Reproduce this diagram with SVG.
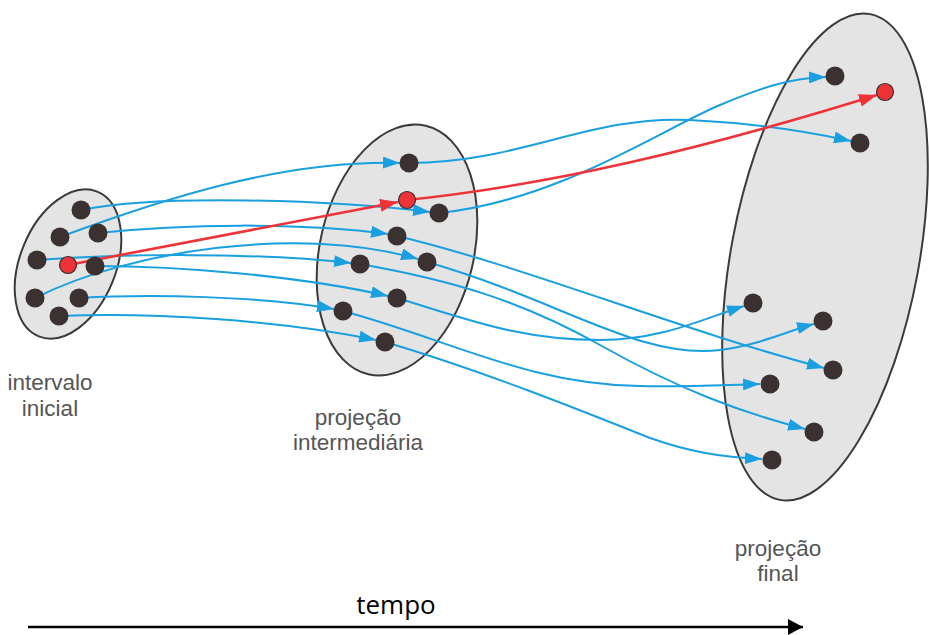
<svg xmlns="http://www.w3.org/2000/svg" width="929" height="635" viewBox="0 0 929 635">
  <defs>
    <style>
      .set { fill: #e4e4e4; stroke: #3b3b3b; stroke-width: 2; }
      .pt { fill: #3a3130; }
      .pt-red { fill: #ee3338; stroke: #3a3130; stroke-width: 1.2; }
      .flow { fill: none; stroke: #1a9fe0; stroke-width: 2; marker-end: url(#ah-blue); }
      .flow-red { fill: none; stroke: #ee3338; stroke-width: 2.6; marker-end: url(#ah-red); }
      .lbl { font-family: "Liberation Sans", Arial, sans-serif; font-size: 22.5px; fill: #555555; text-anchor: middle; }
      .axis-lbl { font-family: "Open Sans", "Liberation Sans", sans-serif; font-size: 26px; fill: #000000; text-anchor: middle; }
    </style>
    <marker id="ah-blue" markerUnits="userSpaceOnUse" markerWidth="17" markerHeight="12" refX="17" refY="6" orient="auto">
      <path d="M0,0 L17,6 L0,12 Z" fill="#1a9fe0"/>
    </marker>
    <marker id="ah-red" markerUnits="userSpaceOnUse" markerWidth="18" markerHeight="13" refX="18" refY="6.5" orient="auto">
      <path d="M0,0 L18,6.5 L0,13 Z" fill="#ee3338"/>
    </marker>
    <marker id="ah-black" markerUnits="userSpaceOnUse" markerWidth="16" markerHeight="16" refX="15" refY="8" orient="auto">
      <path d="M0,0 L15,8 L0,16 Z" fill="#000000"/>
    </marker>
  </defs>

  <rect width="929" height="635" fill="#ffffff"/>

  <!-- the three sets of states -->
  <g id="set-initial">
    <ellipse class="set" cx="68" cy="264" rx="48" ry="78" transform="rotate(22 68 264)"/>
    <text class="lbl" x="50" y="390">intervalo</text>
    <text class="lbl" x="50" y="416">inicial</text>
  </g>
  <g id="set-intermediate">
    <ellipse class="set" cx="397" cy="250" rx="77" ry="127.5" transform="rotate(13 397 250)"/>
    <text class="lbl" x="358" y="425">projeção</text>
    <text class="lbl" x="358" y="450">intermediária</text>
  </g>
  <g id="set-final">
    <ellipse class="set" cx="825" cy="257" rx="94" ry="247" transform="rotate(10.5 825 257)"/>
    <text class="lbl" x="778" y="556">projeção</text>
    <text class="lbl" x="778" y="581">final</text>
  </g>

  <!-- trajectories -->
  <g id="connectors">
    <!-- initial -> intermediate -->
    <path class="flow" d="M81,210 C160,194 330,200 430,212"/>
    <path class="flow" d="M60,237 C160,200 280,160 400,163"/>
    <path class="flow" d="M98,233 C180,224 300,222 388,234"/>
    <path class="flow" d="M37,260 C120,254 250,252 351,263"/>
    <path class="flow" d="M95,266 C180,266 300,276 388,296"/>
    <path class="flow" d="M35,298 C130,250 300,225 418,259"/>
    <path class="flow" d="M79,298 C150,294 260,296 334,309"/>
    <path class="flow" d="M59,316 C150,312 280,320 376,340"/>
    <!-- intermediate -> final -->
    <path class="flow" d="M409,163 C520,163 590,115 690,120 C750,123 800,130 851,141"/>
    <path class="flow" d="M439,213 C560,200 660,130 720,105 C760,88 790,78 826,77"/>
    <path class="flow" d="M397,236 C520,265 680,330 824,368"/>
    <path class="flow" d="M427,262 C560,300 640,360 720,350 C760,345 790,330 814,324"/>
    <path class="flow" d="M360,264 C450,280 520,300 600,345 C680,390 740,412 805,429"/>
    <path class="flow" d="M397,298 C470,320 520,340 600,340 C660,340 700,320 744,306"/>
    <path class="flow" d="M343,311 C450,340 530,385 640,386 C690,387 720,385 760,384"/>
    <path class="flow" d="M385,342 C480,370 580,410 650,438 C690,452 720,457 762,459"/>
    <!-- highlighted trajectory -->
    <path class="flow-red" d="M68,265 L398,202"/>
    <path class="flow-red" d="M407,200 C550,185 700,150 877,95"/>
    <!-- time axis -->
    <line x1="28" y1="627" x2="803" y2="627" stroke="#000000" stroke-width="2.5" marker-end="url(#ah-black)"/>
  </g>

  <!-- states in the initial interval -->
  <g id="i1"><circle class="pt" cx="81" cy="210" r="9.5"/></g>
  <g id="i2"><circle class="pt" cx="60" cy="237" r="9.5"/></g>
  <g id="i3"><circle class="pt" cx="98" cy="233" r="9.5"/></g>
  <g id="i4"><circle class="pt" cx="37" cy="260" r="9.5"/></g>
  <g id="i5"><circle class="pt" cx="95" cy="266" r="9.5"/></g>
  <g id="i6"><circle class="pt" cx="35" cy="298" r="9.5"/></g>
  <g id="i7"><circle class="pt" cx="79" cy="298" r="9.5"/></g>
  <g id="i8"><circle class="pt" cx="59" cy="316" r="9.5"/></g>
  <g id="i-red"><circle class="pt-red" cx="68" cy="265" r="8.5"/></g>

  <!-- states in the intermediate projection -->
  <g id="m1"><circle class="pt" cx="409" cy="163" r="9.5"/></g>
  <g id="m2"><circle class="pt" cx="439" cy="213" r="9.5"/></g>
  <g id="m3"><circle class="pt" cx="397" cy="236" r="9.5"/></g>
  <g id="m4"><circle class="pt" cx="427" cy="262" r="9.5"/></g>
  <g id="m5"><circle class="pt" cx="360" cy="264" r="9.5"/></g>
  <g id="m6"><circle class="pt" cx="397" cy="298" r="9.5"/></g>
  <g id="m7"><circle class="pt" cx="343" cy="311" r="9.5"/></g>
  <g id="m8"><circle class="pt" cx="385" cy="342" r="9.5"/></g>
  <g id="m-red"><circle class="pt-red" cx="407" cy="200" r="8.5"/></g>

  <!-- states in the final projection -->
  <g id="f1"><circle class="pt" cx="835" cy="76" r="9.5"/></g>
  <g id="f2"><circle class="pt" cx="860" cy="143" r="9.5"/></g>
  <g id="f3"><circle class="pt" cx="753" cy="303" r="9.5"/></g>
  <g id="f4"><circle class="pt" cx="823" cy="321" r="9.5"/></g>
  <g id="f5"><circle class="pt" cx="833" cy="370" r="9.5"/></g>
  <g id="f6"><circle class="pt" cx="770" cy="384" r="9.5"/></g>
  <g id="f7"><circle class="pt" cx="814" cy="432" r="9.5"/></g>
  <g id="f8"><circle class="pt" cx="772" cy="460" r="9.5"/></g>
  <g id="f-red"><circle class="pt-red" cx="885" cy="92" r="8.5"/></g>

  <text id="axis-label" class="axis-lbl" x="396" y="614">tempo</text>
</svg>
